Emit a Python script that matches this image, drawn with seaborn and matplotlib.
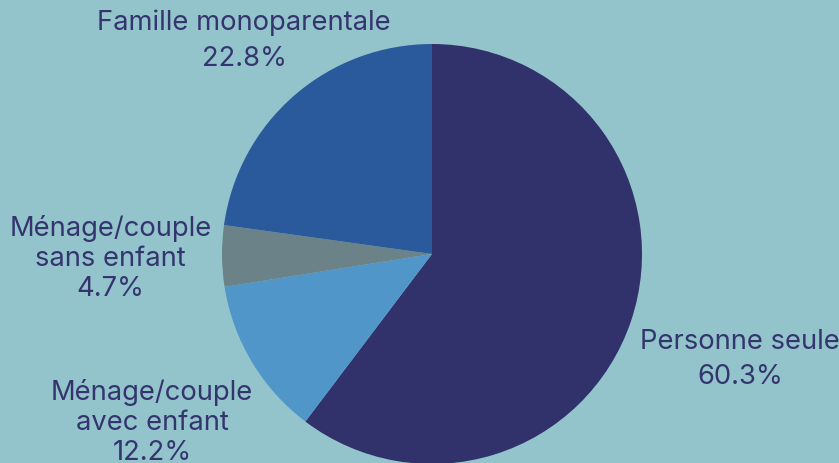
import matplotlib
matplotlib.use("Agg")
import matplotlib.pyplot as plt
import seaborn as sns

sns.set_theme(style="white")
plt.rcParams['font.family'] = ['Inter', 'DejaVu Sans']

# data
categories = ["Personne seule", "Ménage/couple\navec enfant",
              "Ménage/couple\nsans enfant", "Famille monoparentale"]
shares = [60.3, 12.2, 4.7, 22.8]
colors = ["#31326b", "#5096c8", "#6b8388", "#2b5a9c"]

bg = "#93c4cb"
txt = "#34356e"

fig = plt.figure(figsize=(8.39, 4.64), dpi=100, facecolor=bg)
ax = fig.add_axes([0, 0, 1, 1])
ax.set_facecolor(bg)

wedges, texts = ax.pie(shares, colors=colors, startangle=90, counterclock=False,
                       center=(432, 209), radius=210,
                       labels=[f"{c}\n{s}%" for c, s in zip(categories, shares)],
                       labeldistance=1.53,
                       wedgeprops=dict(linewidth=0),
                       textprops=dict(color=txt, fontsize=19.7, ha="center",
                                      va="center", linespacing=1.2))
for t in texts:
    t.set_horizontalalignment("center")
# two-line labels are spaced wider
texts[0].set_linespacing(1.45)
texts[3].set_linespacing(1.5)
texts[0].set_position((740, 464 - 360))
texts[1].set_position((152, 464 - 423))
# famille label sits closer to the pie
texts[3].set_position((244, 464 - 41))

ax.set_xlim(0, 839)
ax.set_ylim(0, 464)
ax.set_aspect("equal")
ax.axis("off")

fig.savefig("out.png", dpi=100, facecolor=bg)
